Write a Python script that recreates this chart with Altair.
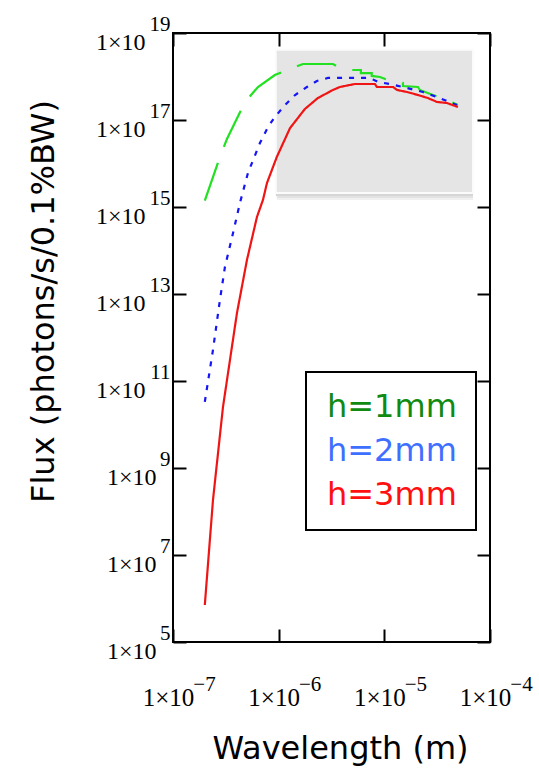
import json
import altair as alt
import pandas as pd

# ---------------- data ----------------
series_names = ["h=1mm", "h=2mm", "h=3mm"]

h1_wavelength = [2.0e-7, 2.78e-7, 3.24e-7, 4.8e-7, 6.37e-7, 9.2e-7, 1.2e-6, 1.7e-6,
                 3.26e-6, 3.8e-6, 4.73e-6, 6.0e-6, 6.0e-6, 7.6e-6, 7.6e-6, 9.1e-6,
                 1.21e-5, 1.5e-5, 1.5e-5, 2.08e-5, 2.17e-5, 2.88e-5, 3.91e-5, 4.97e-5]
h1_flux = [1.4e15, 1.41e16, 3.66e16, 2.6e17, 5.74e17, 1.08e18, 1.41e18, 1.94e18,
           1.94e18, 1.57e18, 1.41e18, 1.41e18, 1.2e18, 1.2e18, 1.03e18, 9.75e17,
           7.5e17, 7.1e17, 6.05e17, 5.74e17, 4.9e17, 3.76e17, 2.88e17, 2.21e17]

h2_wavelength = [2.0e-7, 2.39e-7, 2.78e-7, 3.1e-7, 3.7e-7, 4.3e-7, 5.12e-7, 6.65e-7,
                 7.92e-7, 9.2e-7, 1.15e-6, 1.43e-6, 1.85e-6, 2.3e-6, 2.93e-6, 7.3e-6,
                 8.7e-6, 1.13e-5, 1.5e-5, 2.32e-5, 3.15e-5, 4.86e-5]
h2_flux = [3.3e10, 5.2e11, 7.3e12, 4.18e13, 2.52e14, 1.24e15, 6.05e15, 2.96e16,
           6.9e16, 1.17e17, 2.21e17, 3.76e17, 5.74e17, 7.9e17, 9.25e17, 9.25e17,
           7.5e17, 6.73e17, 5.74e17, 4.4e17, 3.38e17, 2.21e17]

h3_wavelength = [2.0e-7, 2.39e-7, 2.97e-7, 4.03e-7, 5.01e-7, 6.23e-7, 7.1e-7, 7.75e-7,
                 9.6e-7, 1.28e-6, 1.77e-6, 2.35e-6, 3.26e-6, 3.8e-6, 5.27e-6, 8.15e-6,
                 8.5e-6, 1.21e-5, 1.32e-5, 1.64e-5, 2.08e-5, 2.58e-5, 3.15e-5, 3.91e-5, 4.97e-5]
h3_flux = [7.1e5, 1.84e8, 2.5e10, 3.66e12, 6.05e13, 5.9e14, 1.45e15, 3.56e15,
           1.41e16, 6.5e16, 1.79e17, 3.2e17, 4.9e17, 5.74e17, 6.73e17, 6.73e17,
           5.74e17, 5.74e17, 4.9e17, 4.4e17, 3.76e17, 3.2e17, 2.6e17, 2.46e17, 1.99e17]

# highlighted (grey) region
box_wavelength = [9.4e-7, 6.9e-5]
box_flux = [2.1e15, 4.1e18]

# axes
x_domain = [1e-7, 1e-4]
y_domain = [1e5, 1e19]
x_ticks = [1e-7, 1e-6, 1e-5, 1e-4]
x_tick_exponents = ["\u22127", "\u22126", "\u22125", "\u22124"]
y_ticks = [1e5, 1e7, 1e9, 1e11, 1e13, 1e15, 1e17, 1e19]
y_tick_exponents = ["5", "7", "9", "11", "13", "15", "17", "19"]
tick_base = "1\u00d710"

# styles
line_colors = ["#22e022", "#1515f5", "#f01515"]
label_colors = ["#118a11", "#3f6fff", "#ff1010"]
line_dashes = [[40, 17], [5, 7], [1, 0]]
shadow_styles = [(1, 7, "#f0f0f0"), (1, 5, "#e3e3e3"), (0, 3, "#d6d6d6")]
SERIF = "Liberation Serif"
SANS = "DejaVu Sans"

# ---------------- build tables ----------------
rows = []
for name, wl, fl in zip(series_names,
                        [h1_wavelength, h2_wavelength, h3_wavelength],
                        [h1_flux, h2_flux, h3_flux]):
    for i, (w, f) in enumerate(zip(wl, fl)):
        rows.append({"series": name, "wavelength": w, "flux": f, "idx": i})
df = pd.DataFrame(rows)
box_df = pd.DataFrame({"x0": [box_wavelength[0]], "x1": [box_wavelength[1]],
                       "y0": [box_flux[0]], "y1": [box_flux[1]]})


def xscale():
    return alt.Scale(type="log", domain=x_domain, nice=False)


def yscale():
    return alt.Scale(type="log", domain=y_domain, nice=False)


inward = alt.ExprRef(expr="-13")
common = dict(grid=False, domain=False, labelFlush=False, labelOverlap=False,
              tickColor="black", tickWidth=2, labelColor="black", titleColor="black")

x_exp_expr = json.dumps(x_tick_exponents, ensure_ascii=False) + "[round(log(datum.value)/LN10)+7]"
y_exp_expr = json.dumps(y_tick_exponents, ensure_ascii=False) + "[(round(log(datum.value)/LN10)-5)/2]"
legend_color_expr = " : ".join(
    f"datum.label == '{n}' ? '{c}'" for n, c in zip(series_names[:-1], label_colors[:-1])
) + f" : '{label_colors[-1]}'"

# soft shadow of the grey region
shadows = [
    alt.Chart(box_df).mark_rect(fill=col, xOffset=dx, yOffset=dy).encode(
        x=alt.X("x0:Q", scale=xscale(), axis=None), x2="x1:Q",
        y=alt.Y("y0:Q", scale=yscale(), axis=None), y2="y1:Q")
    for dx, dy, col in shadow_styles
]

# grey region + top/right inward ticks
box = alt.Chart(box_df).mark_rect(fill="#e5e5e5", stroke="#fbfbfb", strokeWidth=2).encode(
    x=alt.X("x0:Q", scale=xscale(),
            axis=alt.Axis(orient="top", values=x_ticks, labels=False, ticks=True,
                          tickSize=inward, title="", **common)),
    x2="x1:Q",
    y=alt.Y("y0:Q", scale=yscale(),
            axis=alt.Axis(orient="right", values=y_ticks, labels=False, ticks=True,
                          tickSize=inward, title="", **common)),
    y2="y1:Q")

# curves + bottom/left axes with base labels
lines = alt.Chart(df).mark_line(strokeWidth=2.2).encode(
    x=alt.X("wavelength:Q", scale=xscale(),
            axis=alt.Axis(orient="bottom", values=x_ticks, labelExpr=f"'{tick_base}'",
                          labelFont=SERIF, labelFontSize=25, labelAlign="center",
                          labelBaseline="alphabetic", labelOffset=-5, labelPadding=76,
                          ticks=True, tickSize=inward,
                          title="Wavelength (m)", titleFont=SANS, titleFontSize=32,
                          titleFontWeight="normal", titleX=167, titleY=116,
                          titleAlign="center", titleBaseline="alphabetic", **common)),
    y=alt.Y("flux:Q", scale=yscale(),
            axis=alt.Axis(orient="left", values=y_ticks, labelExpr=f"'{tick_base}'",
                          labelFont=SERIF, labelFontSize=24, labelAlign="right",
                          labelBaseline="alphabetic", labelOffset=16,
                          labelPadding={"condition": {"test": "datum.value > 1e10", "value": 41},
                                        "value": 30},
                          ticks=True, tickSize=inward,
                          title="Flux (photons/s/0.1%BW)", titleFont=SANS, titleFontSize=32,
                          titleFontWeight="normal", titleAngle=270, titleX=-130, titleY=268,
                          titleAlign="center", titleBaseline="middle", **common)),
    color=alt.Color("series:N", scale=alt.Scale(domain=series_names, range=line_colors),
                    legend=alt.Legend(orient="none", legendX=133, legendY=339, title=None,
                                      symbolSize=0, symbolStrokeWidth=0, symbolOpacity=0,
                                      labelOffset=alt.ExprRef(expr="-30"),
                                      labelFont=SANS, labelFontSize=32,
                                      labelColor=alt.ExprRef(expr=legend_color_expr),
                                      labelLimit=400, padding=19, rowPadding=12,
                                      fillColor="white", strokeColor="black")),
    strokeDash=alt.StrokeDash("series:N", scale=alt.Scale(domain=series_names, range=line_dashes),
                              legend=None),
    order="idx:Q",
)

# invisible carrier of the exponent labels
exponents = alt.Chart(df).mark_point(opacity=0).encode(
    x=alt.X("wavelength:Q", scale=xscale(),
            axis=alt.Axis(orient="bottom", values=x_ticks, labelExpr=x_exp_expr,
                          labelFont=SERIF, labelFontSize=21, labelAlign="center",
                          labelBaseline="alphabetic", labelOffset=31, labelPadding=48,
                          ticks=False, tickSize=0, title="", **common)),
    y=alt.Y("flux:Q", scale=yscale(),
            axis=alt.Axis(orient="left", values=y_ticks, labelExpr=y_exp_expr,
                          labelFont=SERIF, labelFontSize=21, labelAlign="right",
                          labelBaseline="alphabetic", labelOffset=-3, labelPadding=3,
                          ticks=False, tickSize=0, title="", **common)),
)

chart = alt.layer(*shadows, box, lines, exponents).resolve_scale(
    x="independent", y="independent"
).properties(
    width=317, height=609,
    padding={"left": 173, "top": 33, "right": 49, "bottom": 131},
    autosize=alt.AutoSizeParams(type="none"),
    background="white",
).configure_view(stroke="black", strokeWidth=2).configure_legend(strokeWidth=2)

chart.save("out.html", embed_options={"renderer": "svg", "actions": False})
